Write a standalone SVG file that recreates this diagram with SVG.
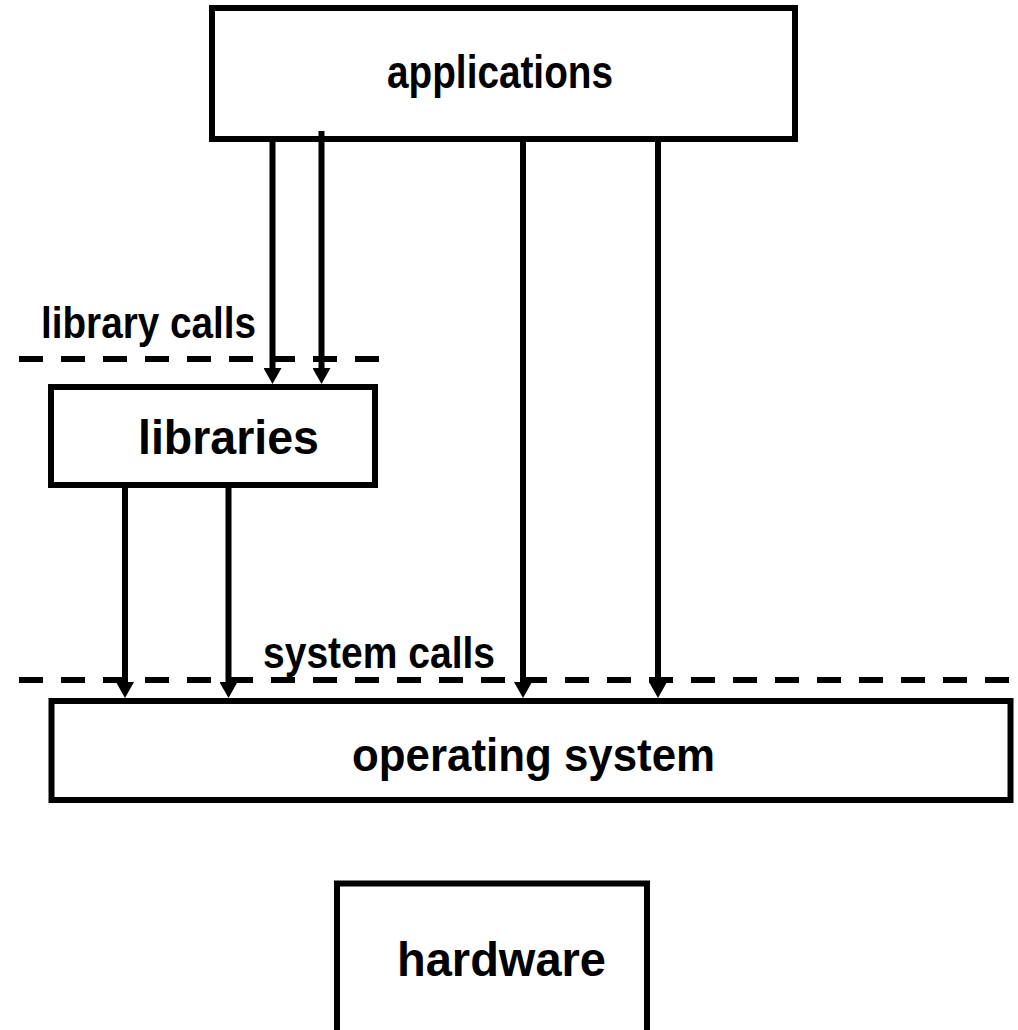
<svg xmlns="http://www.w3.org/2000/svg" width="1018" height="1030" viewBox="0 0 1018 1030">
<style>
.box{fill:#fff;stroke:#000;stroke-width:6}
.lbl{font-family:"Liberation Sans",Arial,sans-serif;font-weight:bold;fill:#000}
.arr{stroke:#000;stroke-width:6;fill:none;marker-end:url(#ah)}
.dash{stroke:#000;stroke-width:6;stroke-dasharray:24 18;fill:none}
</style>
<defs>
<marker id="ah" markerUnits="userSpaceOnUse" viewBox="0 0 16 18" markerWidth="16" markerHeight="18" refX="3" refY="9" orient="auto">
<path d="M0,0 L16,9 L0,18 z" fill="#000"/>
</marker>
</defs>
<rect width="1018" height="1030" fill="#fff"/>
<g id="applications">
<rect class="box" x="212" y="8" width="583" height="131"/>
<text class="lbl" x="387" y="88" font-size="46" textLength="226" lengthAdjust="spacingAndGlyphs">applications</text>
</g>
<g id="libraries">
<rect class="box" x="51" y="387" width="324" height="98"/>
<text class="lbl" x="138" y="454" font-size="48" textLength="181" lengthAdjust="spacingAndGlyphs">libraries</text>
</g>
<g id="operating-system">
<rect class="box" x="51.5" y="701" width="959" height="99"/>
<text class="lbl" x="352" y="771" font-size="46" textLength="363" lengthAdjust="spacingAndGlyphs">operating system</text>
</g>
<g id="hardware">
<rect class="box" x="337" y="883.5" width="310" height="170"/>
<text class="lbl" x="397" y="976" font-size="48" textLength="209" lengthAdjust="spacingAndGlyphs">hardware</text>
</g>
<g id="boundaries">
<line class="dash" x1="19" y1="359" x2="379" y2="359"/>
<text class="lbl" x="41" y="338" font-size="45" textLength="215" lengthAdjust="spacingAndGlyphs">library calls</text>
<line class="dash" x1="19" y1="680" x2="1009" y2="680"/>
<text class="lbl" x="263" y="668" font-size="45" textLength="232" lengthAdjust="spacingAndGlyphs">system calls</text>
</g>
<g id="connectors">
<line class="arr" x1="272.5" y1="139" x2="272.5" y2="371"/>
<line class="arr" x1="321.5" y1="131" x2="321.5" y2="371"/>
<line class="arr" x1="523" y1="139" x2="523" y2="685"/>
<line class="arr" x1="658" y1="139" x2="658" y2="685"/>
<line class="arr" x1="125" y1="485" x2="125" y2="685"/>
<line class="arr" x1="228.5" y1="485" x2="228.5" y2="685"/>
</g>
</svg>
